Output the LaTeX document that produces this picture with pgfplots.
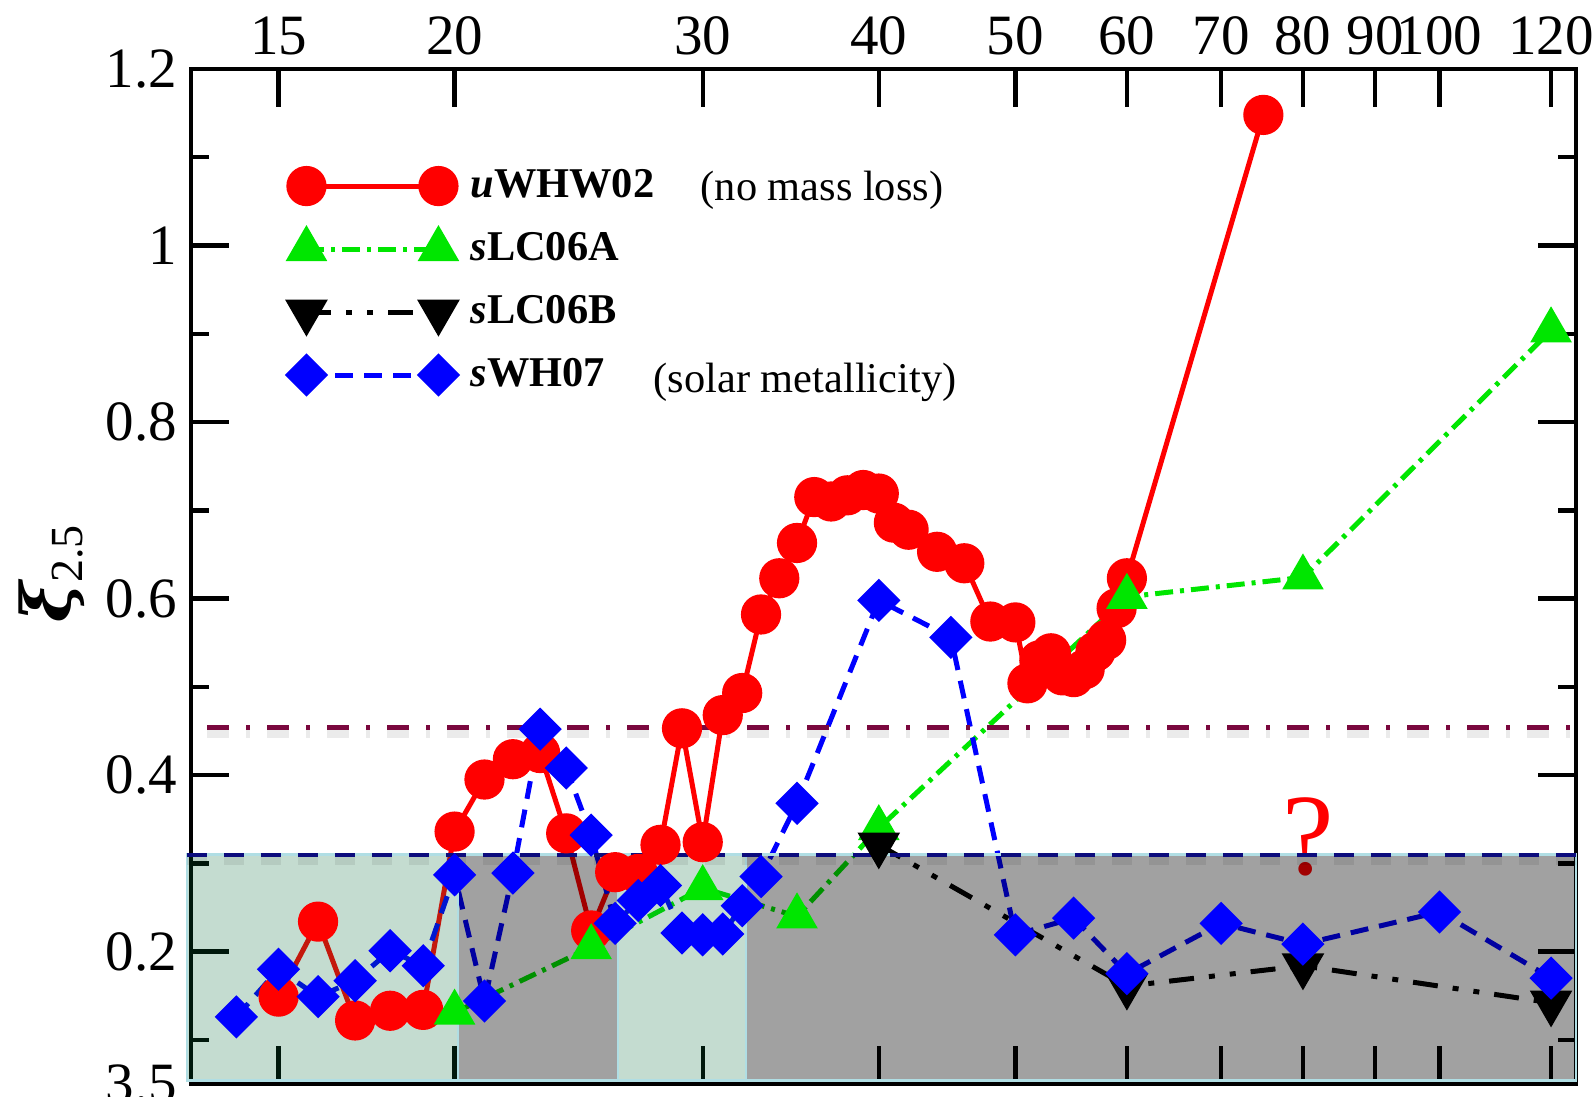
\documentclass[border=0pt]{standalone}
\usepackage{pgfplots}
\pgfplotsset{compat=1.18}
\usepackage{fontspec}
\setmainfont{Liberation Serif}
\newfontfamily\greekfont{DejaVu Serif}

\definecolor{lgreen}{RGB}{0,230,0}
\definecolor{maroonl}{RGB}{122,8,62}
\definecolor{navyl}{RGB}{12,12,125}
\definecolor{boxgreen}{RGB}{0,104,52}
\definecolor{boxedge}{RGB}{176,222,228}

\begin{document}
\begin{tikzpicture}
\begin{axis}[
  scale only axis, width=346.25pt, height=253.75pt,
  xmode=log, xmin=13, xmax=125, ymin=0.05, ymax=1.2,
  clip=false,
  xtick={15,20,30,40,50,60,70,80,90,100,120},
  xticklabels={15,20,30,40,50,60,70,80,90,100,120},
  xminorticks=false,
  xticklabel pos=right,
  ytick={0.2,0.4,0.6,0.8,1,1.2},
  yticklabels={0.2,0.4,0.6,0.8,1,1.2},
  minor ytick={0.1,0.3,0.5,0.7,0.9,1.1},
  extra y ticks={0.05}, extra y tick labels={3.5},
  extra y tick style={major tick length=0pt},
  tick align=inside,
  major tick length=9.5pt, minor tick length=4.5pt,
  tick style={black, line width=1.1pt},
  axis line style={line width=1pt},
  ticklabel style={font=\fontsize{14.25}{16}\selectfont},
  legend style={at={(0.0697,0.7916)}, anchor=west, draw=none, fill=none,
    font=\fontsize{10.6}{12}\selectfont, row sep=5.2pt, inner sep=0pt,
    nodes={inner sep=1pt},
    /tikz/every odd column/.style={column sep=2.5pt}},
  legend cell align=left,
  legend image code/.code={\draw[#1] plot coordinates {(0pt,0pt) (33pt,0pt)};},
]
\coordinate (sw) at (rel axis cs:0,0);
\coordinate (ne) at (rel axis cs:1,1);

% uWHW02, zero metallicity, no mass loss
\addplot[red, line width=1.25pt, mark=*, mark size=4.4pt, mark options={solid}] coordinates {
 (15,0.149) (16,0.234) (17,0.122) (18,0.133) (19,0.134) (20,0.336)
 (21,0.395) (22,0.418) (23,0.425) (24,0.334) (25,0.224) (26,0.290)
 (27,0.288) (28,0.321) (29,0.453) (30,0.324) (31,0.468) (32,0.493)
 (33,0.582) (34,0.623) (35,0.663) (36,0.715) (37,0.710) (38,0.717)
 (39,0.723) (40,0.719) (41,0.686) (42,0.678) (44,0.653) (46,0.640)
 (48,0.574) (50,0.573) (51,0.504) (52,0.530) (53,0.538) (54,0.513)
 (55,0.511) (56,0.520) (57,0.540) (58,0.553) (59,0.589) (60,0.623)
 (75,1.148)};
\addlegendentry{\textbf{\textit{u}WHW02}}

% sLC06A
\addplot[lgreen, line width=1.25pt, dash pattern=on 4.5pt off 1.75pt on 1pt off 1.75pt,
  mark=triangle*, mark size=4.75pt, mark options={solid}] coordinates {
 (20,0.131) (25,0.205) (30,0.272) (35,0.240) (40,0.340) (60,0.602) (80,0.624) (120,0.904)};
\addlegendentry{\textbf{\textit{s}LC06A}}

% sLC06B
\addplot[black, line width=1.25pt, dash pattern=on 6.25pt off 3.75pt on 1.5pt off 3.75pt on 1.5pt off 3.75pt,
  mark=triangle*, mark size=4.9pt, mark options={solid, rotate=180}] coordinates {
 (40,0.321) (60,0.161) (80,0.184) (120,0.142)};
\addlegendentry{\textbf{\textit{s}LC06B}}

% sWH07, solar metallicity
\addplot[blue, line width=1.25pt, dash pattern=on 4.5pt off 2.75pt,
  mark=square*, mark size=3.2pt, mark options={solid, rotate=45}] coordinates {
 (14,0.126) (15,0.180) (16,0.149) (17,0.167) (18,0.201) (19,0.184)
 (20,0.287) (21,0.144) (22,0.289) (23,0.452) (24,0.408) (25,0.332)
 (26,0.232) (27,0.258) (28,0.275) (29,0.221) (30,0.219) (31,0.220)
 (32,0.252) (33,0.285) (35,0.368) (40,0.598) (45,0.556) (50,0.219)
 (55,0.238) (60,0.175) (70,0.232) (80,0.2085) (100,0.245) (120,0.170)};
\addlegendentry{\textbf{\textit{s}WH07}}

\node[text=red, font=\fontsize{29}{30}\selectfont] at (axis cs:80.7,0.3297) {?};

% shaded mass ranges
\addplot[forget plot, draw=boxedge, line width=0.6pt, fill=boxgreen, fill opacity=0.23]
  coordinates {(12.91,0.054) (20.11,0.054) (20.11,0.31) (12.91,0.31)} -- cycle;
\addplot[forget plot, draw=boxedge, line width=0.6pt, fill=black, fill opacity=0.37]
  coordinates {(20.11,0.054) (26.12,0.054) (26.12,0.31) (20.11,0.31)} -- cycle;
\addplot[forget plot, draw=boxedge, line width=0.6pt, fill=boxgreen, fill opacity=0.23]
  coordinates {(26.12,0.054) (32.2,0.054) (32.2,0.31) (26.12,0.31)} -- cycle;
\addplot[forget plot, draw=boxedge, line width=0.6pt, fill=black, fill opacity=0.37]
  coordinates {(32.2,0.054) (125,0.054) (125,0.31) (32.2,0.31)} -- cycle;

% reference levels with soft shadows
\addplot[forget plot, black, opacity=0.08, line width=3pt, yshift=-1.2pt,
  dash pattern=on 5pt off 4.25pt] coordinates {(12.91,0.31) (125,0.31)};
\addplot[forget plot, navyl, line width=1pt, dash pattern=on 5pt off 4.25pt]
  coordinates {(12.91,0.31) (125,0.31)};
\addplot[forget plot, black, opacity=0.08, line width=3pt, yshift=-1.2pt,
  dash pattern=on 5.5pt off 4.25pt on 1pt off 4.25pt] coordinates {(13.35,0.454) (125,0.454)};
\addplot[forget plot, maroonl, line width=1.1pt, dash pattern=on 5.5pt off 4.25pt on 1pt off 4.25pt]
  coordinates {(13.35,0.454) (125,0.454)};

\node[font=\fontsize{10.6}{12}\selectfont] at (rel axis cs:0.4556,0.8808) {(no mass loss)};
\node[font=\fontsize{10.6}{12}\selectfont] at (rel axis cs:0.4433,0.6916) {(solar metallicity)};
\node[rotate=90, inner sep=0pt] at (rel axis cs:-0.1005,0.5025)
  {{\greekfont\bfseries\itshape\fontsize{17}{19}\selectfont ξ}\raisebox{-0.3em}{\fontsize{11.5}{13}\selectfont 2.5}};
\end{axis}
\pgfresetboundingbox
\useasboundingbox ([xshift=-47.75pt,yshift=-3pt]sw) rectangle ([xshift=4.5pt,yshift=17.25pt]ne);
\end{tikzpicture}
\end{document}
